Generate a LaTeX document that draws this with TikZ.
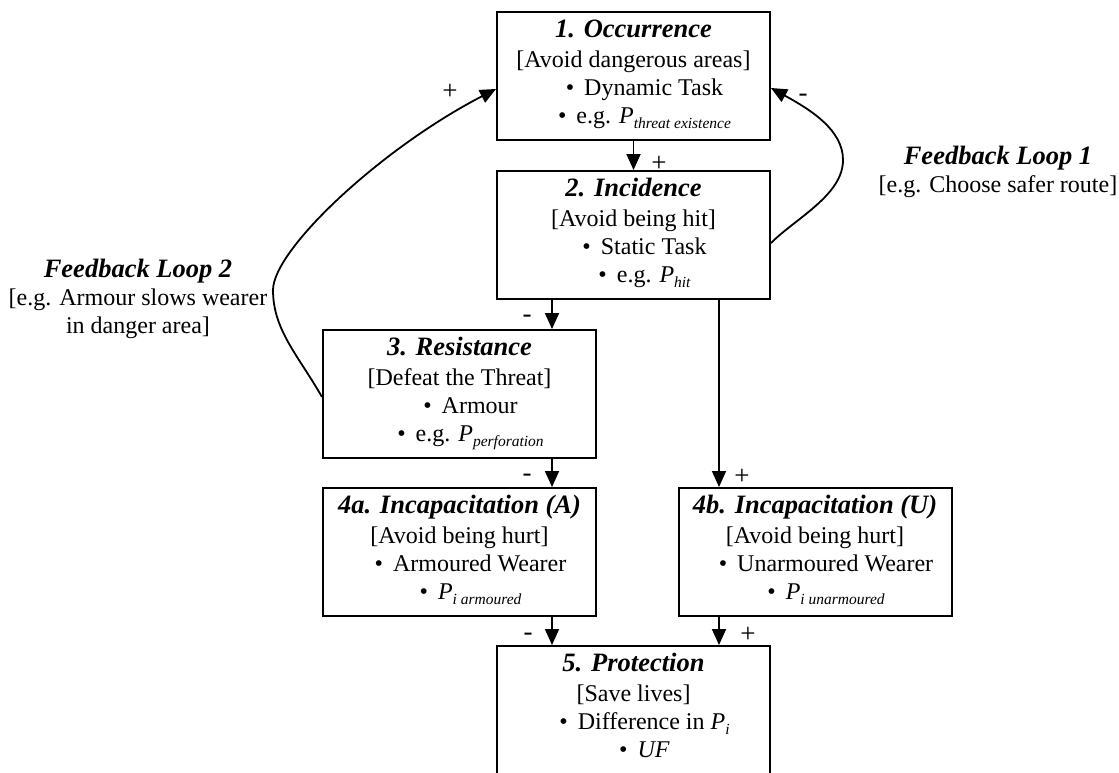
\documentclass[tikz,border=0pt]{standalone}
\usepackage{fontspec}
\setmainfont{Liberation Serif}
\usetikzlibrary{arrows.meta}

% fonts
\newcommand\ttlfont{\fontsize{26.5}{30}\selectfont\bfseries\itshape}
\newcommand\subfont{\fontsize{15.5}{16}\selectfont\itshape}
% P with an italic subscript
\newcommand\Psub[1]{\textit{P}\raisebox{-5pt}{\subfont #1}}
% indented bullet
\newcommand\bul{\hspace*{22pt}•\hspace{10pt}}

% four centred lines of a stage box, fixed baselines
\newcommand\stagetext[4]{\vbox{\baselineskip=28pt\lineskiplimit=-\maxdimen\lineskip=0pt
  \halign{\hfil##\hfil\cr
    \rule{0pt}{20pt}{\ttlfont #1}\cr
    \noalign{\kern2pt}
    #2\cr
    \bul #3\cr
    \bul #4\rule[-12pt]{0pt}{12pt}\cr}}}

% heading plus note lines, baseline at the heading
\newcommand\notetext[2]{\vtop{\baselineskip=28pt\lineskiplimit=-\maxdimen\lineskip=0pt
  \halign{\hfil##\hfil\cr
    {\ttlfont #1}\cr
    #2\cr}}}

\tikzset{
  stage/.style={draw, line width=2pt, minimum width=273pt, minimum height=128pt,
    inner sep=0pt, font=\fontsize{24}{28}\selectfont},
  note/.style={inner sep=0pt, anchor=base, font=\fontsize{24}{28}\selectfont},
  sign/.style={inner sep=0pt, font=\fontsize{27}{27}\selectfont},
  arr/.style={line width=1.8pt, -{Triangle[width=14pt,length=16pt]}}
}

\begin{document}
\begin{tikzpicture}
\useasboundingbox (0,0) rectangle (1119pt,-772pt);
\clip (0,0) rectangle (1119pt,-772pt);

% stages
\node[stage] (b1)  at (633.5pt,-76pt)  {\stagetext{1. Occurrence}{[Avoid dangerous areas]}{Dynamic Task}{e.g. \Psub{threat existence}}};
\node[stage] (b2)  at (633.5pt,-235pt) {\stagetext{2. Incidence}{[Avoid being hit]}{Static Task}{e.g. \Psub{hit}}};
\node[stage] (b3)  at (459.5pt,-394pt) {\stagetext{3. Resistance}{[Defeat the Threat]}{Armour}{e.g. \Psub{perforation}}};
\node[stage] (b4a) at (459.5pt,-552pt) {\stagetext{4a. Incapacitation (A)}{[Avoid being hurt]}{Armoured Wearer}{\Psub{i armoured}}};
\node[stage] (b4b) at (815pt,-552pt)   {\stagetext{4b. Incapacitation (U)}{[Avoid being hurt]}{Unarmoured Wearer}{\Psub{i unarmoured}}};
\node[stage] (b5)  at (633.5pt,-710pt) {\stagetext{5. Protection}{[Save lives]}{Difference in \Psub{i}}{\textit{UF}}};

% feedback notes
\node[note] (fl1) at (998pt,-164pt) {\notetext{Feedback Loop 1}{[e.g. Choose safer route]}};
\node[note] (fl2) at (138pt,-277pt) {\notetext{Feedback Loop 2}{[e.g. Armour slows wearer\cr in danger area]}};

% columns of the vertical connectors
\coordinate (xa) at (552pt,0);
\coordinate (xb) at (719pt,0);

% main chain
\draw[arr] (b1) -- (b2);
\draw[arr] (xa |- b2.south) -- (xa |- b3.north);
\draw[arr] (xa |- b3.south) -- (xa |- b4a.north);
\draw[arr] (xb |- b2.south) -- (xb |- b4b.north);
\draw[arr] (xa |- b4a.south) -- (xa |- b5.north);
\draw[arr] (xb |- b4b.south) -- (xb |- b5.north);

% feedback loops
\coordinate (fl2turn) at (273pt,-290pt);
\draw[arr] ([yshift=-3pt]b3.west) .. controls +(-24pt,42pt) and +(0,-40pt) .. (fl2turn)
  .. controls +(0,40pt) and +(-116pt,-60pt) .. ([yshift=-13pt]b1.west);
\coordinate (fl1apex) at (843pt,-160pt);
\draw[arr] ([yshift=-8pt]b2.east) .. controls +(25pt,25pt) and +(0,-35pt) .. (fl1apex)
  .. controls +(0,30pt) and +(40pt,-22pt) .. ([yshift=-12pt]b1.east);

% signs
\node[sign] (s12)   at (659pt,-164pt) {+};
\node[sign] (s23)   at (527pt,-319pt) {-};
\node[sign] (s34)   at (527pt,-478pt) {-};
\node[sign] (s24)   at (742pt,-477pt) {+};
\node[sign] (s45a)  at (528pt,-637pt) {-};
\node[sign] (s45b)  at (748pt,-635pt) {+};
\node[sign] (sfl2)  at (450pt,-92pt)  {+};
\node[sign] (sfl1)  at (803pt,-98pt)  {-};
\end{tikzpicture}
\end{document}
